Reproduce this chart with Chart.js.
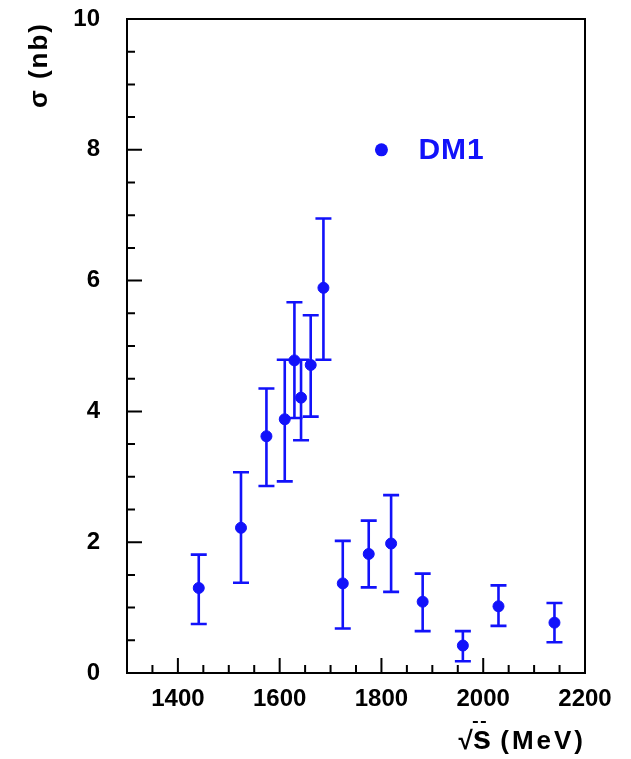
<!DOCTYPE html>
<html>
<head>
<meta charset="utf-8">
<script src="https://cdn.jsdelivr.net/npm/chart.js@4.4.1/dist/chart.umd.min.js"></script>
<style>
  html, body { margin: 0; padding: 0; background: #fff; }
  #wrap { width: 631px; height: 759px; position: relative; }
</style>
</head>
<body>
<div id="wrap"><canvas id="c"></canvas></div>
<script>
// Cross section measurements: centre-of-mass energy (MeV), sigma (nb) and error-bar ends
const energies = [1441, 1524, 1574, 1610, 1629, 1642, 1661, 1686, 1724, 1775, 1819, 1881, 1960, 2030, 2140];
const sigma    = [1.30, 2.22, 3.62, 3.88, 4.78, 4.21, 4.71, 5.89, 1.37, 1.82, 1.98, 1.09, 0.42, 1.02, 0.77];
const sigmaHi  = [1.81, 3.07, 4.35, 4.79, 5.67, 4.79, 5.47, 6.95, 2.02, 2.33, 2.72, 1.52, 0.64, 1.34, 1.07];
const sigmaLo  = [0.75, 1.38, 2.86, 2.93, 3.90, 3.56, 3.92, 4.79, 0.68, 1.31, 1.24, 0.64, 0.18, 0.72, 0.47];

const xTickLabels = [1400, 1600, 1800, 2000, 2200];
const yTickLabels = [0, 2, 4, 6, 8, 10];
const seriesName = 'DM1';
const xTitle = '(MeV)';
const yTitle = 'σ (nb)';

const BLUE = 'rgb(18,18,250)';
const FONT = '"Liberation Sans", Arial, Helvetica, sans-serif';

// Error bars with caps, drawn from sigmaLo / sigmaHi
const errorBars = {
  id: 'errorBars',
  beforeDatasetsDraw(chart) {
    const { ctx, scales: { x, y } } = chart;
    ctx.save();
    ctx.strokeStyle = BLUE;
    ctx.lineWidth = 2.6;
    const cap = 8;
    energies.forEach((e, i) => {
      const px = x.getPixelForValue(e);
      const yh = y.getPixelForValue(sigmaHi[i]);
      const yl = y.getPixelForValue(sigmaLo[i]);
      ctx.beginPath();
      ctx.moveTo(px, yh); ctx.lineTo(px, yl);
      ctx.moveTo(px - cap, yh); ctx.lineTo(px + cap, yh);
      ctx.moveTo(px - cap, yl); ctx.lineTo(px + cap, yl);
      ctx.stroke();
    });
    ctx.restore();
  }
};

// Frame with inward major/minor ticks, axis titles and the in-plot legend entry
const frame = {
  id: 'frame',
  afterDraw(chart) {
    const { ctx, chartArea: a, scales: { x, y } } = chart;
    ctx.save();
    ctx.strokeStyle = '#000';
    ctx.lineWidth = 2;
    ctx.strokeRect(a.left, a.top, a.right - a.left, a.bottom - a.top);
    ctx.beginPath();
    for (let v = 1350; v < 2200; v += 50) {
      const px = x.getPixelForValue(v);
      const len = (v % 200 === 0) ? 15 : 8;
      ctx.moveTo(px, a.bottom); ctx.lineTo(px, a.bottom - len);
    }
    for (let v = 0.5; v < 10; v += 0.5) {
      const py = y.getPixelForValue(v);
      const len = (Math.abs(v % 2) < 1e-9) ? 15 : 8;
      ctx.moveTo(a.left, py); ctx.lineTo(a.left + len, py);
    }
    ctx.stroke();

    // x axis title: sqrt(s) with a dashed bar over the s, then the unit
    ctx.fillStyle = '#000';
    ctx.textBaseline = 'alphabetic';
    ctx.textAlign = 'left';
    ctx.font = 'bold 26px ' + FONT;
    ctx.letterSpacing = '3px';
    const unitW = ctx.measureText(xTitle).width;
    const rootW = ctx.measureText('√').width;
    ctx.font = 'bold 33px ' + FONT;
    ctx.letterSpacing = '0px';
    const sW = ctx.measureText('s').width;
    const baseY = 749;
    const gap = 9;
    const startX = a.right + 1 - unitW - gap - sW - rootW + 3;
    const sX = startX + rootW - 3;
    ctx.fillText('s', sX, baseY);
    ctx.font = 'bold 26px ' + FONT;
    ctx.fillText('√', startX, baseY);
    ctx.letterSpacing = '3px';
    ctx.fillText(xTitle, sX + sW + gap, baseY);
    ctx.lineWidth = 2;
    ctx.beginPath();
    ctx.moveTo(sX, baseY - 27); ctx.lineTo(sX + 5, baseY - 27);
    ctx.moveTo(sX + 8, baseY - 27); ctx.lineTo(sX + 13, baseY - 27);
    ctx.stroke();

    // y axis title, rotated, ending at the top of the axis
    ctx.save();
    ctx.translate(40, a.top + 3);
    ctx.rotate(-Math.PI / 2);
    ctx.letterSpacing = '2px';
    ctx.textAlign = 'right';
    ctx.textBaseline = 'middle';
    ctx.fillText(yTitle, 0, 0);
    ctx.restore();

    // legend entry placed at (1800, 8) in data units
    const lx = x.getPixelForValue(1800);
    const ly = y.getPixelForValue(8);
    ctx.fillStyle = BLUE;
    ctx.beginPath();
    ctx.arc(lx, ly, 6.5, 0, Math.PI * 2);
    ctx.fill();
    ctx.font = 'bold 30px ' + FONT;
    ctx.letterSpacing = '1px';
    ctx.textBaseline = 'middle';
    ctx.textAlign = 'left';
    ctx.fillText(seriesName, lx + 37, ly + 1);
    ctx.restore();
  }
};

new Chart(document.getElementById('c'), {
  type: 'scatter',
  data: {
    datasets: [{
      label: seriesName,
      data: energies.map((e, i) => ({ x: e, y: sigma[i] })),
      backgroundColor: BLUE,
      borderColor: BLUE,
      pointRadius: 5.5,
      pointHoverRadius: 5.5,
      pointStyle: 'circle'
    }]
  },
  options: {
    responsive: true,
    maintainAspectRatio: false,
    animation: false,
    layout: { padding: { top: 19, right: 46, left: 0, bottom: 0 } },
    plugins: { legend: { display: false }, tooltip: { enabled: false } },
    scales: {
      x: {
        type: 'linear',
        min: 1300, max: 2200,
        afterFit(s) { s.height = 86; s.paddingLeft = 0; s.paddingRight = 0; },
        afterBuildTicks(s) { s.ticks = xTickLabels.map(v => ({ value: v })); },
        grid: { display: false, drawTicks: false },
        border: { display: false },
        ticks: {
          color: '#000', padding: 12, maxRotation: 0, autoSkip: false,
          font: { family: FONT, size: 24, weight: 'bold' },
          callback: v => String(v)
        }
      },
      y: {
        type: 'linear',
        min: 0, max: 10,
        afterFit(s) { s.width = 127; s.paddingTop = 0; s.paddingBottom = 0; },
        afterBuildTicks(s) { s.ticks = yTickLabels.map(v => ({ value: v })); },
        grid: { display: false, drawTicks: false },
        border: { display: false },
        ticks: {
          color: '#000', padding: 27, autoSkip: false,
          font: { family: FONT, size: 24, weight: 'bold' },
          callback: v => String(v)
        }
      }
    }
  },
  plugins: [errorBars, frame]
});
</script>
</body>
</html>
